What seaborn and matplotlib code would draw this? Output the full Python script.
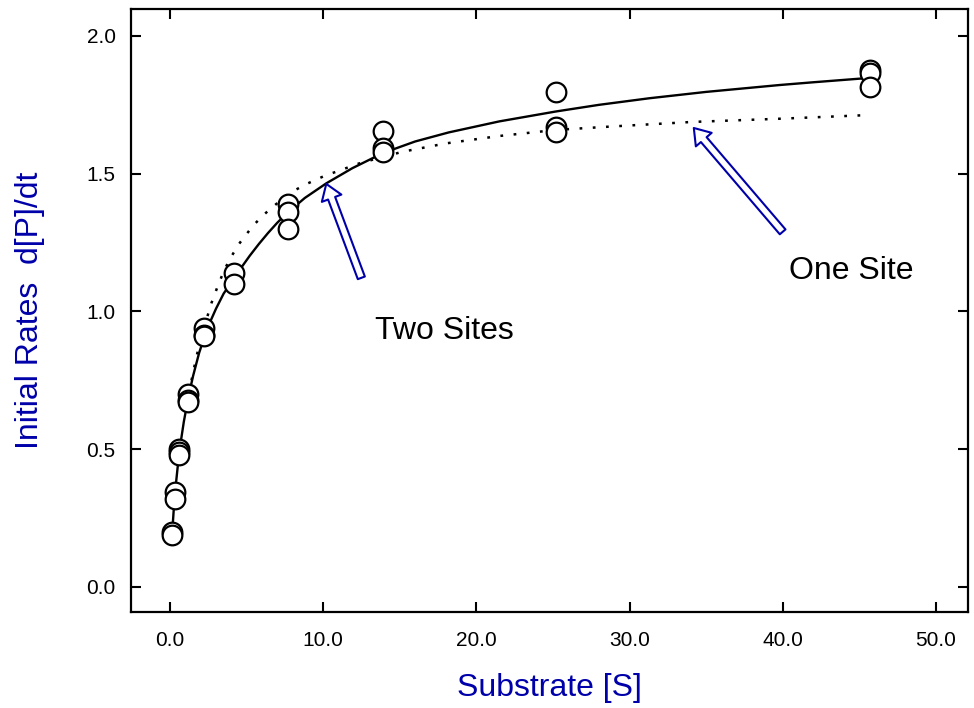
import numpy as np
import pandas as pd
import matplotlib
matplotlib.use("Agg")
import matplotlib.pyplot as plt
import seaborn as sns
from matplotlib.patches import FancyArrowPatch

# observed data (substrate, rate)
substrate = [0.12, 0.12, 0.3, 0.3, 0.6, 0.6, 0.6, 1.2, 1.2, 1.2, 2.2, 2.2, 2.2,
             4.2, 4.2, 7.7, 7.7, 7.7, 13.9, 13.9, 13.9, 25.2, 25.2, 25.2,
             45.7, 45.7, 45.7]
rate = [0.20, 0.19, 0.345, 0.32, 0.50, 0.49, 0.48, 0.70, 0.68, 0.67, 0.94, 0.915, 0.91,
        1.14, 1.10, 1.39, 1.36, 1.30, 1.655, 1.595, 1.58, 1.795, 1.67, 1.65,
        1.875, 1.865, 1.815]

# two-site fitted curve
two_x = [0.12, 0.3, 0.6, 0.9, 1.2, 1.5, 1.9, 2.2, 2.6, 3.0, 3.5, 4.2, 4.7, 5.2, 5.8,
         6.4, 7.0, 7.7, 8.8, 10.2, 11.9, 13.9, 16.0, 18.2, 21.5, 25.2, 28.0, 31.3,
         35.0, 39.8, 42.0, 45.7]
two_y = [0.18, 0.33, 0.49, 0.60, 0.69, 0.765, 0.85, 0.90, 0.96, 1.01, 1.065, 1.122,
         1.163, 1.202, 1.245, 1.285, 1.322, 1.36, 1.412, 1.465, 1.52, 1.575, 1.617,
         1.65, 1.69, 1.726, 1.75, 1.774, 1.797, 1.822, 1.832, 1.848]

# one-site fitted curve
one_x = [1.4, 1.7, 2.0, 2.4, 2.7, 3.1, 3.5, 3.9, 4.5, 5.4, 6.0, 6.5, 7.8, 9.0, 10.2,
         11.0, 12.2, 13.5, 15.2, 18.0, 21.5, 25.2, 29.0, 34.1, 40.0, 45.6]
one_y = [0.75, 0.83, 0.90, 0.975, 1.03, 1.09, 1.145, 1.19, 1.245, 1.31, 1.345, 1.37,
         1.43, 1.465, 1.495, 1.51, 1.535, 1.555, 1.58, 1.61, 1.637, 1.659, 1.672,
         1.688, 1.70, 1.713]

xticks = [0, 10, 20, 30, 40, 50]
yticks = [0.0, 0.5, 1.0, 1.5, 2.0]

sns.set_style("ticks")
plt.rcParams['font.family'] = ['Liberation Sans', 'DejaVu Sans']
plt.rcParams['text.color'] = 'black'
plt.rcParams['xtick.color'] = 'black'
plt.rcParams['ytick.color'] = 'black'
plt.rcParams['axes.edgecolor'] = 'black'

BLUE = '#0000AA'

fig = plt.figure(figsize=(9.74, 7.08), dpi=100)
ax = fig.add_axes([0.1345, 0.1356, 0.8593, 0.8517])

pts = pd.DataFrame({'S': substrate, 'V': rate})
two = pd.DataFrame({'S': two_x, 'V': two_y})
one = pd.DataFrame({'S': one_x, 'V': one_y})

sns.lineplot(data=two, x='S', y='V', ax=ax, color='black', lw=1.7,
             sort=False, estimator=None, zorder=2)
sns.lineplot(data=one, x='S', y='V', ax=ax, color='black', lw=1.8,
             sort=False, estimator=None, zorder=2)
ax.lines[-1].set_linestyle((0, (1.1, 4.2)))
sns.scatterplot(data=pts, x='S', y='V', ax=ax, s=200, facecolor='white',
                edgecolor='black', linewidth=1.6, zorder=3)

ax.set_xlim(-2.55, 52.1)
ax.set_ylim(-0.091, 2.098)
ax.set_xticks(xticks)
ax.set_xticklabels([f"{v:.1f}" for v in xticks])
ax.set_yticks(yticks)
ax.set_yticklabels([f"{v:.1f}" for v in yticks])
ax.tick_params(axis='both', direction='in', length=7, width=1.5, labelsize=15,
               top=True, right=True, colors='black')
ax.tick_params(axis='x', pad=14)
ax.tick_params(axis='y', pad=11)
for sp in ax.spines.values():
    sp.set_linewidth(1.6)
    sp.set_color('black')
    sp.set_visible(True)

ax.set_xlabel('Substrate [S]', fontsize=23, color=BLUE, labelpad=16)
ax.set_ylabel('Initial Rates  d[P]/dt', fontsize=23, color=BLUE, labelpad=30)

ax.text(17.9, 0.929, 'Two Sites', fontsize=23, ha='center', va='center', color='black')
ax.text(44.5, 1.146, 'One Site', fontsize=23, ha='center', va='center', color='black')

style = 'simple,head_length=0.55,head_width=0.75,tail_width=0.27'
for (x0, y0, x1, y1) in [(12.49, 1.122, 10.2, 1.463), (40.0, 1.289, 34.2, 1.666)]:
    arr = FancyArrowPatch((x0, y0), (x1, y1), arrowstyle=style, mutation_scale=20,
                          fc='white', ec=BLUE, lw=1.5, shrinkA=0, shrinkB=0, zorder=4)
    ax.add_patch(arr)

fig.savefig('out.png', dpi=100)
